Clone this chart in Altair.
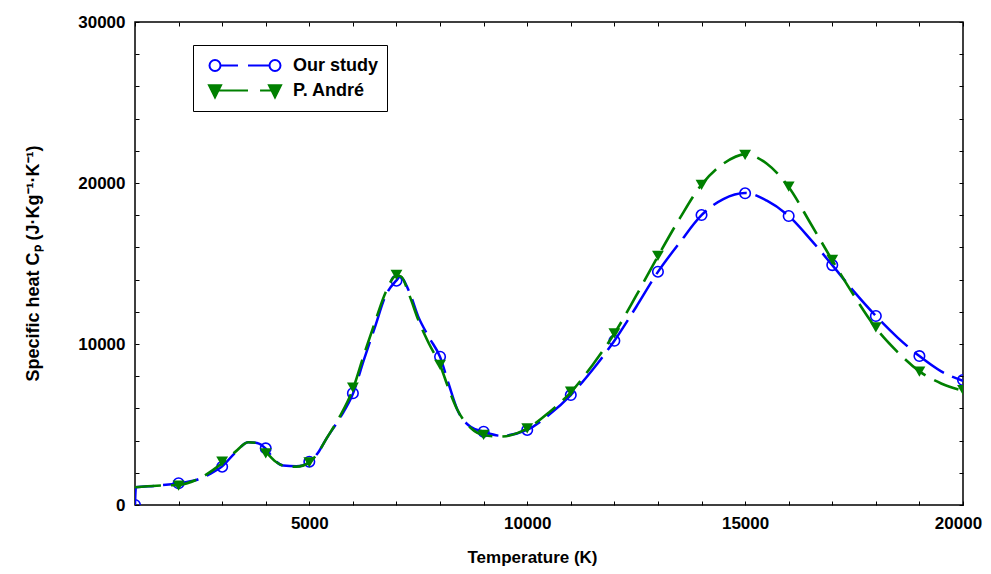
import altair as alt
import pandas as pd

SERIES = ["Our study", "P. André"]
BLUE = "#0000ff"
GREEN = "#008000"

# ---- smooth curves (T in K, Cp in J/(kg K)) ----
blue_curve_T = [1000, 1020, 1500, 2000, 2400, 2700, 3000, 3300, 3600, 3800, 4000, 4200, 4400, 4700,
                5000, 5200, 5400, 5700, 6000, 6250, 6500, 6750, 7000, 7080, 7300, 7500, 7750, 8000,
                8200, 8400, 8700, 9000, 9400, 10000, 10500, 11000, 11500, 12000, 12500, 13000, 13500,
                14000, 14500, 15000, 15500, 16000, 16500, 17000, 17500, 18000, 18500, 19000, 19500, 20000]
blue_curve_V = [0, 1100, 1200, 1350, 1550, 1900, 2400, 3250, 3900, 3850, 3500, 2800, 2450, 2400,
                2650, 3250, 4150, 5400, 6900, 9000, 11000, 13000, 13950, 14180, 13200, 11700, 10400, 9200,
                7500, 5900, 4860, 4550, 4300, 4660, 5600, 6830, 8400, 10200, 12300, 14480, 16300,
                18000, 19000, 19380, 18900, 17950, 16500, 14900, 13250, 11740, 10400, 9250, 8300, 7720]

green_curve_T = [1000, 1500, 2000, 2400, 3000, 3300, 3600, 3800, 4000, 4200, 4400, 4700, 5000, 5200,
                 5400, 5700, 6000, 6250, 6500, 6750, 7000, 7100, 7300, 7500, 7750, 8000, 8200, 8400,
                 8700, 9000, 9400, 10000, 10500, 11000, 11500, 12000, 12500, 13000, 13500, 14000, 14500,
                 15000, 15500, 16000, 16500, 17000, 17500, 18000, 18500, 19000, 19500, 20000]
green_curve_V = [1100, 1200, 1250, 1550, 2600, 3300, 3900, 3850, 3300, 2750, 2450, 2380, 2650, 3250,
                 4150, 5500, 7200, 9300, 11300, 13200, 14250, 14200, 13000, 11500, 10000, 8700, 7200, 5900,
                 4800, 4350, 4250, 4750, 5750, 7000, 8700, 10650, 13000, 15450, 17800, 19900, 21200,
                 21780, 21200, 19750, 17500, 15200, 13000, 11000, 9500, 8300, 7550, 7100]

# ---- markers ----
blue_mark_T = [1000, 2000, 3000, 4000, 5000, 6000, 7000, 8000, 9000, 10000, 11000, 12000, 13000,
               14000, 15000, 16000, 17000, 18000, 19000, 20000]
blue_mark_V = [0, 1350, 2380, 3520, 2690, 6940, 13930, 9210, 4550, 4660, 6830, 10200, 14490,
               18010, 19360, 17950, 14900, 11740, 9250, 7760]
green_mark_T = [2000, 3000, 4000, 5000, 6000, 7000, 8000, 9000, 10000, 11000, 12000, 13000,
                14000, 15000, 16000, 17000, 18000, 19000, 20000]
green_mark_V = [1200, 2690, 3210, 2650, 7290, 14290, 8700, 4350, 4760, 7040, 10660, 15480,
                19880, 21740, 19770, 15220, 11040, 8280, 7140]

x_label_values = [5000, 10000, 15000, 20000]
y_label_values = [0, 10000, 20000, 30000]
x_minor = list(range(1000, 20001, 1000))
y_minor = list(range(0, 30001, 2000))

W, H = 828, 483
FONT = "Liberation Sans"

blue_curve = pd.DataFrame({"T": blue_curve_T, "V": blue_curve_V})
green_curve = pd.DataFrame({"T": green_curve_T, "V": green_curve_V})
blue_marks = pd.DataFrame({"T": blue_mark_T, "V": blue_mark_V})
green_marks = pd.DataFrame({"T": green_mark_T, "V": green_mark_V})
legend_df = pd.DataFrame({"T": [blue_mark_T[0], green_mark_T[0]],
                          "V": [blue_mark_V[0], green_mark_V[0]],
                          "series": SERIES})

xs = alt.Scale(domain=[1000, 20000], nice=False, zero=False)
ys = alt.Scale(domain=[0, 30000], nice=False, zero=False)

def X(axis):
    return alt.X("T:Q", scale=xs, axis=axis)

def Y(axis):
    return alt.Y("V:Q", scale=ys, axis=axis)

ax_common = dict(grid=False, domain=False, labelFont=FONT, labelFontSize=17, labelFontWeight="bold",
                 labelColor="black", titleFont=FONT, titleFontWeight="bold", titleColor="black")

x_main = alt.Axis(orient="bottom", values=x_label_values, ticks=False, labelPadding=10,
                  labelOffset=alt.condition("datum.value == 20000", alt.value(-5), alt.value(0)),
                  title="Temperature (K)", titleX=397, titleY=61, titleAlign="center",
                  titleBaseline="bottom", titleFontSize=17, format="d", labelFlush=False, **ax_common)
y_main = alt.Axis(orient="left", values=y_label_values, ticks=False, labelPadding=10,
                  title="Specific heat Cₚ (J·Kg⁻¹·K⁻¹)", titleX=-102, titleY=241,
                  titleAlign="center", titleBaseline="middle", titleAngle=270, titleFontSize=18,
                  format="d", labelFlush=False, **ax_common)

tick_common = dict(grid=False, domain=False, labels=False, ticks=True, tickSize=4, tickColor="black",
                   tickWidth=1, title=None)
x_in_bottom = alt.Axis(orient="top", offset=-H, values=x_minor, **tick_common)
x_in_top = alt.Axis(orient="bottom", offset=-H, values=x_minor, **tick_common)
y_in_left = alt.Axis(orient="right", offset=-W, values=y_minor, **tick_common)
y_in_right = alt.Axis(orient="left", offset=-W, values=y_minor, **tick_common)

blue_line = alt.Chart(blue_curve).mark_line(
    color=BLUE, strokeWidth=2.5, strokeDash=[36, 9], interpolate="monotone", clip=True
).encode(x=X(x_main), y=Y(y_main))

blue_pts = alt.Chart(blue_marks).mark_point(
    shape="circle", size=110, filled=False, color=BLUE, strokeWidth=1.6, opacity=1, clip=True
).encode(x=X(x_in_bottom), y=Y(y_in_left))

green_line = alt.Chart(green_curve).mark_line(
    color=GREEN, strokeWidth=2.6, strokeDash=[26, 10], interpolate="monotone", clip=True
).encode(x=X(x_in_top), y=Y(y_in_right))

green_pts = alt.Chart(green_marks).mark_point(
    shape="triangle-down", size=140, filled=True, color=GREEN, opacity=1, clip=True
).encode(x=X(None), y=Y(None))

# legend symbols: dashed segment with a marker at each end (unit coordinates)
blue_sym = ("M-1.014 0A0.157 0.157 0 1 1 -0.7 0A0.157 0.157 0 1 1 -1.014 0Z"
            "M-0.7 0L-0.2 0M0.086 0L0.7 0"
            "M0.7 0A0.157 0.157 0 1 1 1.014 0A0.157 0.157 0 1 1 0.7 0Z")
green_sym = ("M-1.03 -0.15L-0.684 -0.15L-0.857 0.2Z"
             "M-0.857 0L0.086 0M0.43 0L0.857 0"
             "M0.684 -0.15L1.03 -0.15L0.857 0.2Z")

leg = alt.Legend(orient="none", legendX=58, legendY=23, title=None, strokeColor="black",
                 fillColor="white", padding=8, symbolOffset=8, labelOffset=12, symbolSize=4900,
                 symbolStrokeWidth=2, clipHeight=25, rowPadding=0, labelFont=FONT, labelFontSize=18,
                 labelFontWeight="bold", labelColor="black", symbolOpacity=1, labelLimit=0)

legend_layer = alt.Chart(legend_df).transform_filter("false").mark_point(
    filled=False, opacity=1, size=0
).encode(
    x=X(None), y=Y(None),
    color=alt.Color("series:N", scale=alt.Scale(domain=SERIES, range=[BLUE, GREEN]), legend=leg),
    fill=alt.Fill("series:N", scale=alt.Scale(domain=SERIES, range=["white", GREEN]), legend=leg),
    shape=alt.Shape("series:N", scale=alt.Scale(domain=SERIES, range=[blue_sym, green_sym]), legend=leg),
)

chart = alt.layer(blue_line, blue_pts, green_line, green_pts, legend_layer).resolve_axis(
    x="independent", y="independent"
).properties(
    width=W, height=H,
    autosize=alt.AutoSizeParams(type="none"),
    padding={"left": 127, "top": 14, "right": 20, "bottom": 61},
    background="white",
).configure_view(stroke="black", strokeWidth=1.5)

chart.save("out.html", embed_options={"renderer": "svg", "actions": False})
